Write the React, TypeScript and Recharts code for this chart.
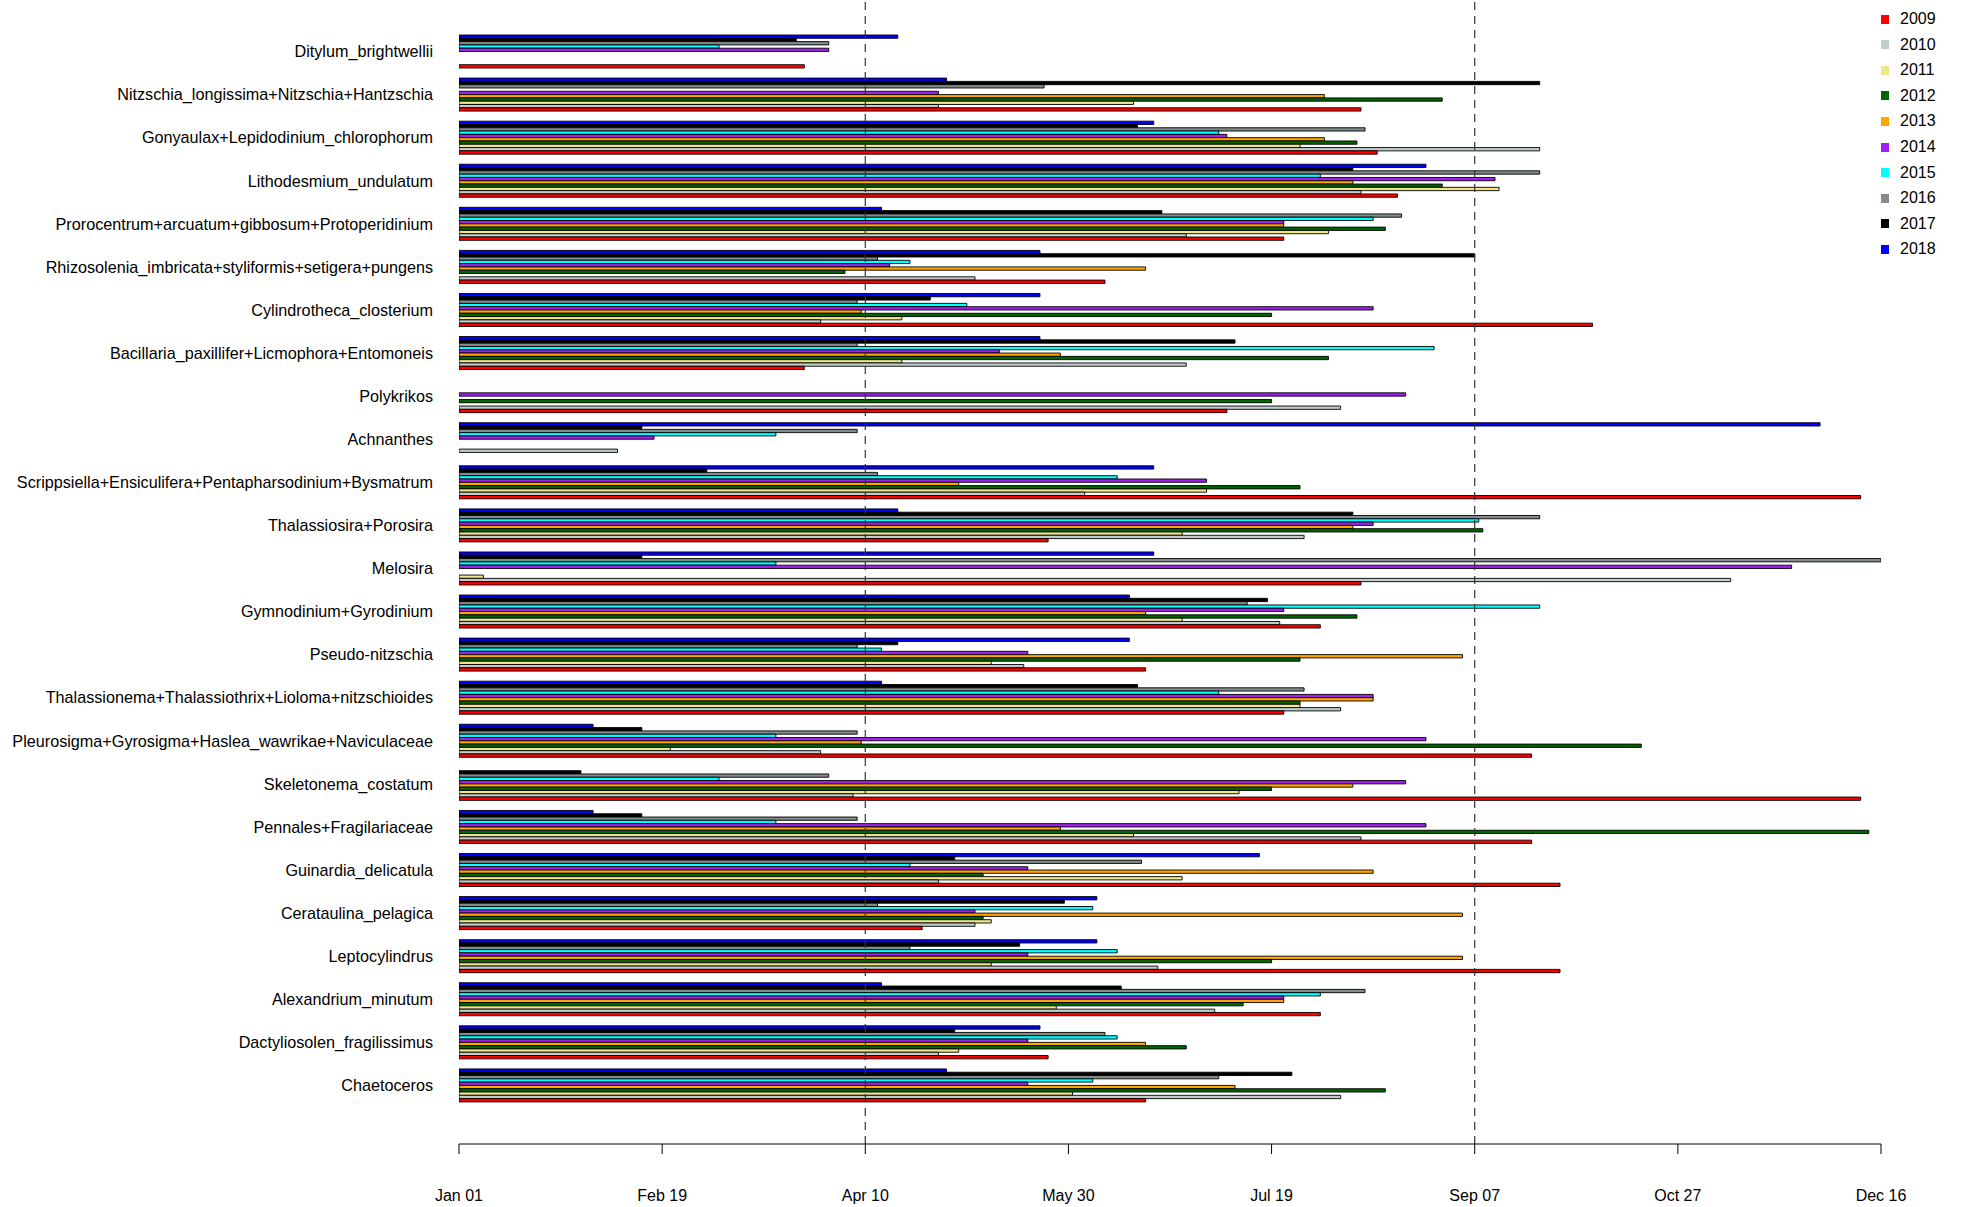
import { BarChart, Bar, XAxis, YAxis, ReferenceLine } from 'recharts'

const taxa = [
  'Ditylum_brightwellii',
  'Nitzschia_longissima+Nitzschia+Hantzschia',
  'Gonyaulax+Lepidodinium_chlorophorum',
  'Lithodesmium_undulatum',
  'Prorocentrum+arcuatum+gibbosum+Protoperidinium',
  'Rhizosolenia_imbricata+styliformis+setigera+pungens',
  'Cylindrotheca_closterium',
  'Bacillaria_paxillifer+Licmophora+Entomoneis',
  'Polykrikos',
  'Achnanthes',
  'Scrippsiella+Ensiculifera+Pentapharsodinium+Bysmatrum',
  'Thalassiosira+Porosira',
  'Melosira',
  'Gymnodinium+Gyrodinium',
  'Pseudo-nitzschia',
  'Thalassionema+Thalassiothrix+Lioloma+nitzschioides',
  'Pleurosigma+Gyrosigma+Haslea_wawrikae+Naviculaceae',
  'Skeletonema_costatum',
  'Pennales+Fragilariaceae',
  'Guinardia_delicatula',
  'Cerataulina_pelagica',
  'Leptocylindrus',
  'Alexandrium_minutum',
  'Dactyliosolen_fragilissimus',
  'Chaetoceros',
]

// days since Jan 01, one value per taxon (null = no bar)
const s2018 = [108, 120, 171, 238, 104, 143, 143, 143, null, 335, 171, 108, 171, 165, 165, 104, 33, null, 33, 197, 157, 157, 104, 143, 120]
const s2017 = [83, 266, 167, 220, 173, 250, 116, 191, null, 45, 61, 220, 45, 199, 108, 167, 45, 30, 45, 122, 149, 138, 163, 122, 205]
const s2016 = [91, 144, 223, 266, 232, 103, 98, 98, null, 98, 103, 266, 350, 194, 98, 208, 98, 91, 98, 168, 103, 111, 223, 159, 187]
const s2015 = [64, null, 187, 212, 225, 111, 125, 240, null, 78, 162, 251, 78, 266, 104, 187, 78, 64, 78, 111, 156, 162, 212, 162, 156]
const s2014 = [91, 118, 189, 255, 203, 106, 225, 133, 233, 48, 184, 225, 328, 203, 140, 225, 238, 233, 238, 140, 127, 140, 203, 140, 140]
const s2013 = [null, 213, 213, 220, 203, 169, 99, 148, null, null, 123, 220, null, 169, 247, 225, 99, 220, 148, 225, 247, 247, 203, 169, 191]
const s2012 = [null, 242, 221, 242, 228, 95, 200, 214, 200, null, 207, 252, null, 221, 207, 207, 291, 200, 347, 129, 129, 200, 193, 179, 228]
const s2011 = [null, 166, 207, 256, 214, null, 109, 109, null, null, 184, 178, 6, 178, 131, 207, 52, 192, 166, 178, 131, 131, 147, 123, 151]
const s2010 = [null, 118, 266, 222, 179, 127, 89, 179, 217, 39, 154, 208, 313, 202, 139, 217, 89, 97, 222, 118, 127, 172, 186, 118, 217]
const s2009 = [85, 222, 226, 231, 203, 159, 279, 85, 189, null, 345, 145, 222, 212, 169, 203, 264, 345, 264, 271, 114, 271, 212, 145, 169]

const years = ['2009', '2010', '2011', '2012', '2013', '2014', '2015', '2016', '2017', '2018']
const yearColors = ['#FF0000', '#C1CDCD', '#F0E68C', '#006400', '#FFA500', '#A020F0', '#00FFFF', '#838B8B', '#000000', '#0000FF']
const series = [s2009, s2010, s2011, s2012, s2013, s2014, s2015, s2016, s2017, s2018]

const tickValues = [0, 50, 100, 150, 200, 250, 300, 350]
const tickLabels = ['Jan 01', 'Feb 19', 'Apr 10', 'May 30', 'Jul 19', 'Sep 07', 'Oct 27', 'Dec 16']
const markerDays = [100, 250]

const FONT = '"Liberation Sans", Arial, sans-serif'

const data = taxa.map((name, i) => {
  const row: Record<string, any> = { name }
  years.forEach((y, k) => {
    row['y' + y] = series[k][i]
  })
  return row
})

export default function App() {
  // 2018 is drawn on top of each group, 2009 at the bottom
  const order = years.map((y, k) => k).reverse()
  return (
    <div style={{ position: 'absolute', left: 0, top: 0, width: 1962, height: 1207, background: '#fff', fontFamily: FONT }}>
      <BarChart
        width={1962}
        height={1207}
        layout="vertical"
        data={data}
        margin={{ top: 0, right: 81, bottom: 0, left: 0 }}
        barGap={0}
        barSize={3.3}
      >
        <XAxis
          type="number"
          domain={[0, 350]}
          ticks={tickValues}
          tickFormatter={(v: number) => tickLabels[tickValues.indexOf(v)] ?? ''}
          height={63}
          tickSize={10}
          tickMargin={36}
          axisLine={{ stroke: '#000' }}
          tickLine={{ stroke: '#000' }}
          tick={{ fill: '#000', fontSize: 16, fontFamily: FONT }}
          allowDataOverflow
        />
        <YAxis
          type="category"
          dataKey="name"
          width={459}
          interval={0}
          axisLine={false}
          tickLine={false}
          tickSize={0}
          tickMargin={26}
          padding={{ top: 30, bottom: 37 }}
          tick={{ fill: '#000', fontSize: 16.2, fontFamily: FONT }}
        />
        {markerDays.map((d) => (
          <ReferenceLine key={d} x={d} stroke="#333" strokeWidth={1.2} strokeDasharray="8 6" />
        ))}
        {order.map((k) => (
          <Bar
            key={years[k]}
            dataKey={'y' + years[k]}
            fill={yearColors[k]}
            stroke="#000"
            strokeWidth={0.9}
            isAnimationActive={false}
          />
        ))}
      </BarChart>
      {years.map((y, k) => (
        <div key={y} style={{ position: 'absolute', left: 1881, top: 10 + k * 25.6, height: 18, display: 'flex', alignItems: 'center' }}>
          <div style={{ width: 8, height: 9, background: yearColors[k] }} />
          <span style={{ marginLeft: 11, fontSize: 16, color: '#000' }}>{y}</span>
        </div>
      ))}
    </div>
  )
}
